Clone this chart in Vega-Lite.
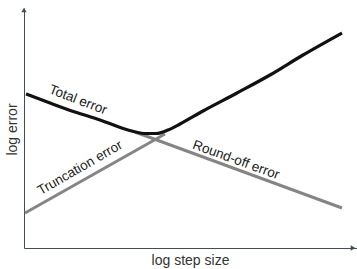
{
  "$schema": "https://vega.github.io/schema/vega-lite/v6.json",
  "width": 333,
  "height": 240,
  "autosize": {"type": "none"},
  "padding": {"left": 24, "top": 8, "right": 0, "bottom": 21},
  "background": "white",
  "config": {"view": {"stroke": null}, "font": "Liberation Sans"},
  "datasets": {
    "lines": [
      {"series": "Truncation error", "x": 1, "y": 35},
      {"series": "Truncation error", "x": 141, "y": 114},
      {"series": "Round-off error", "x": 111, "y": 116},
      {"series": "Round-off error", "x": 318, "y": 40},
      {"series": "Total error", "x": 2, "y": 154},
      {"series": "Total error", "x": 26, "y": 145},
      {"series": "Total error", "x": 51, "y": 136},
      {"series": "Total error", "x": 76, "y": 128},
      {"series": "Total error", "x": 104, "y": 118},
      {"series": "Total error", "x": 120, "y": 114.5},
      {"series": "Total error", "x": 132, "y": 114.5},
      {"series": "Total error", "x": 144, "y": 118},
      {"series": "Total error", "x": 156, "y": 124},
      {"series": "Total error", "x": 179, "y": 137},
      {"series": "Total error", "x": 213, "y": 155},
      {"series": "Total error", "x": 246, "y": 173},
      {"series": "Total error", "x": 279, "y": 193},
      {"series": "Total error", "x": 318, "y": 215}
    ],
    "labels": [
      {"label": "Total error", "x": 54, "y": 148},
      {"label": "Truncation error", "x": 56, "y": 80},
      {"label": "Round-off error", "x": 212, "y": 88}
    ],
    "arrows": [
      {"dir": "up", "x": 0, "y": 238},
      {"dir": "right", "x": 329, "y": 0}
    ]
  },
  "encoding": {
    "x": {"field": "x", "type": "quantitative", "scale": {"domain": [0, 333], "nice": false, "zero": false},
      "axis": {"title": "log step size", "ticks": false, "labels": false, "grid": false, "domainColor": "#444c55", "domainWidth": 1,
        "titleFont": "Liberation Sans", "titleFontSize": 14, "titleFontWeight": "normal", "titleColor": "#333333",
        "titleX": 166, "titleY": 12, "titleAlign": "center", "titleBaseline": "middle"}},
    "y": {"field": "y", "type": "quantitative", "scale": {"domain": [0, 240], "nice": false, "zero": false},
      "axis": {"title": "log error", "ticks": false, "labels": false, "grid": false, "domainColor": "#444c55", "domainWidth": 1,
        "titleFont": "Liberation Sans", "titleFontSize": 14, "titleFontWeight": "normal", "titleColor": "#333333",
        "titleX": -12, "titleY": 121, "titleAlign": "center", "titleBaseline": "middle", "titleAngle": -90}}
  },
  "layer": [
    {
      "data": {"name": "lines"},
      "transform": [{"filter": "datum.series !== 'Total error'"}],
      "mark": {"type": "line", "strokeWidth": 3, "color": "#858585", "strokeCap": "butt"},
      "encoding": {"detail": {"field": "series", "type": "nominal"}}
    },
    {
      "data": {"name": "lines"},
      "transform": [{"filter": "datum.series === 'Total error'"}],
      "mark": {"type": "line", "strokeWidth": 3.2, "color": "#111111", "interpolate": "monotone", "strokeCap": "butt"}
    },
    {
      "data": {"name": "labels"},
      "transform": [{"filter": "datum.label === 'Total error'"}],
      "mark": {"type": "text", "angle": 21, "fontSize": 13.5, "color": "#222222", "align": "center", "baseline": "middle"},
      "encoding": {"text": {"field": "label"}}
    },
    {
      "data": {"name": "labels"},
      "transform": [{"filter": "datum.label === 'Truncation error'"}],
      "mark": {"type": "text", "angle": -30, "fontSize": 13.5, "color": "#222222", "align": "center", "baseline": "middle"},
      "encoding": {"text": {"field": "label"}}
    },
    {
      "data": {"name": "labels"},
      "transform": [{"filter": "datum.label === 'Round-off error'"}],
      "mark": {"type": "text", "angle": 20, "fontSize": 13.5, "color": "#222222", "align": "center", "baseline": "middle"},
      "encoding": {"text": {"field": "label"}}
    },
    {
      "data": {"name": "arrows"},
      "transform": [{"filter": "datum.dir === 'up'"}],
      "mark": {"type": "point", "shape": "triangle-up", "filled": true, "size": 28, "color": "#444c55", "opacity": 1}
    },
    {
      "data": {"name": "arrows"},
      "transform": [{"filter": "datum.dir === 'right'"}],
      "mark": {"type": "point", "shape": "triangle-right", "filled": true, "size": 28, "color": "#444c55", "opacity": 1}
    }
  ]
}
